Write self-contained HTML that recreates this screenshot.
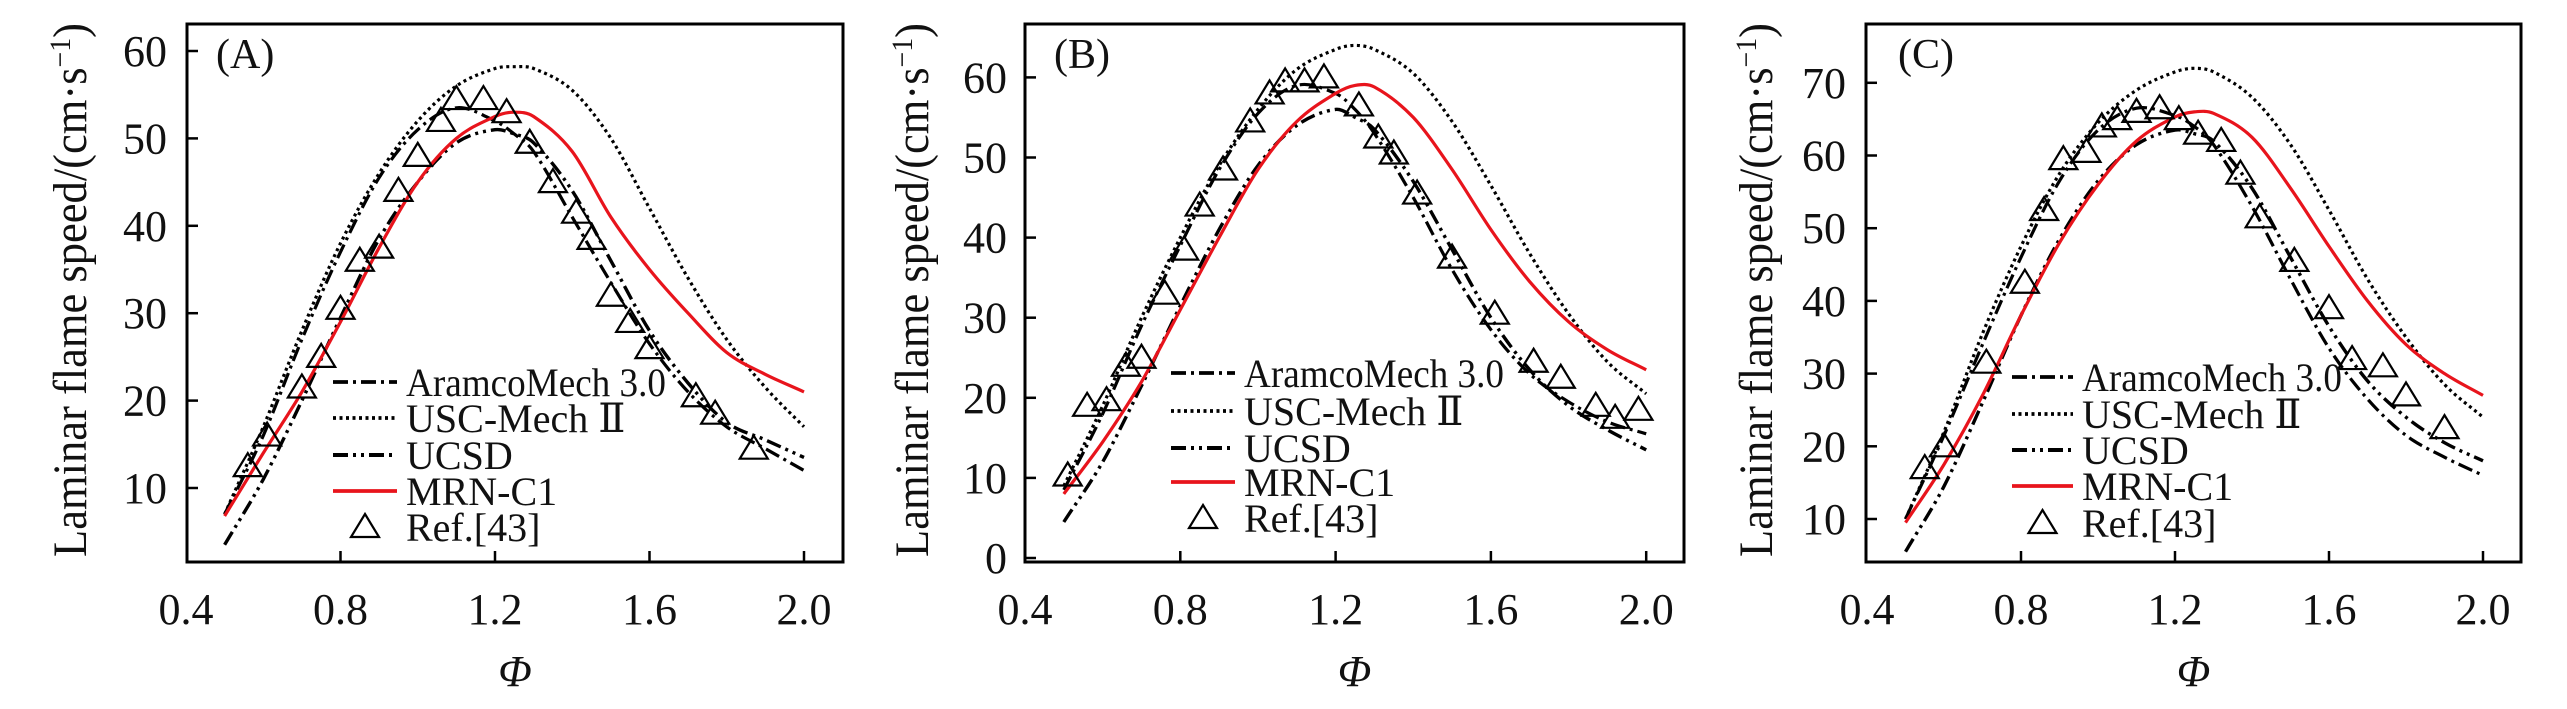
<!DOCTYPE html>
<html><head><meta charset="utf-8"><style>
html,body{margin:0;padding:0;background:#fff;}
svg{display:block;}
svg text{font-family:"Liberation Serif","DejaVu Serif",serif;}
</style></head><body>
<svg id="fig" width="2567" height="709" viewBox="0 0 2567 709" xmlns="http://www.w3.org/2000/svg" font-family="Liberation Serif, DejaVu Serif, serif"></svg>
<script>
// Shared phi grid for model curves
const phiGrid = [0.5,0.6,0.7,0.8,0.9,1.0,1.1,1.2,1.25,1.3,1.4,1.5,1.6,1.7,1.8,1.9,2.0];
const xTicks = [0.4,0.8,1.2,1.6,2.0];
const xTickLabels = ["0.4","0.8","1.2","1.6","2.0"];
const seriesNames = ["AramcoMech 3.0","USC-Mech \u2161","UCSD","MRN-C1","Ref.[43]"];

// Panel A
const aAramco = [7,16,27,37,45.5,51,53.5,52,50.5,48.5,41,33.5,26.5,21,17,14.5,12];
const aUSC    = [7,17,28,38,46,52,56,58,58.2,58,55.5,50,42,34,27,21.5,17];
const aUCSD   = [3.5,11,20,29.5,38.5,45,49.5,51,50.5,49.5,44,36,28,22,17.5,15.5,13.5];
const aMRN    = [6.8,14,21,29,37.5,45,50,52.5,53,52.5,48.5,41,35,30,25.5,23,21];
const aRefPhi = [0.56,0.61,0.70,0.75,0.80,0.85,0.90,0.95,1.00,1.06,1.10,1.17,1.23,1.29,1.35,1.41,1.45,1.50,1.55,1.60,1.72,1.77,1.87];
const aRefSL  = [12.5,16,21.5,25,30.5,36,37.5,44,48,52,54.5,54.5,53,49.5,45,41.5,38.5,32,29,26,20.5,18.5,14.5];
const aYTicks = [10,20,30,40,50,60];

// Panel B
const bAramco = [8.5,18,29,39,48.5,55.5,59,58,56,53,45,36,28.5,23,19.5,17,15.5];
const bUSC    = [9,19,30,40,49,56,61,63.5,64,63.5,60.5,54.5,46.5,38,30.5,24.5,20.5];
const bUCSD   = [4.5,12,21.5,31.5,41,49,54,56,55,53.5,47,38.5,30,23.5,19,16,13.5];
const bMRN    = [8,14.5,22,31,40,48.5,54.5,58,59,58.8,55,48.5,41,34.5,29.5,26,23.5];
const bRefPhi = [0.51,0.56,0.61,0.66,0.70,0.76,0.81,0.85,0.91,0.98,1.03,1.07,1.12,1.17,1.26,1.31,1.35,1.41,1.50,1.61,1.71,1.78,1.87,1.92,1.98];
const bRefSL  = [10.3,19,19.7,24,25,33,38.5,44,48.5,54.5,58,59.5,59.5,60,56.5,52.5,50.5,45.5,37.5,30.5,24.5,22.5,19,17.5,18.5];
const bYTicks = [0,10,20,30,40,50,60];

// Panel C
const cAramco = [10,21.5,34,46,56.5,63.5,66.5,65.5,64,61.5,53,43,33.5,26.5,21.5,18.5,16];
const cUSC    = [10,22,35.5,47.5,57.5,64.5,69,71.5,72,71.5,68,61.5,52.5,43,35,28.5,24];
const cUCSD   = [5.5,14.5,26,38,48.5,56.5,61.5,63.5,63,62,55.5,46,36.5,29,24,20.5,18];
const cMRN    = [9.5,17.5,27,38,48,56,62,65.3,66,65.8,62.5,55.5,47.5,40,34,30,27];
const cRefPhi = [0.55,0.60,0.71,0.81,0.86,0.91,0.97,1.01,1.05,1.10,1.16,1.21,1.26,1.32,1.37,1.42,1.51,1.60,1.66,1.74,1.80,1.90];
const cRefSL  = [17,20,31.5,42.5,52.5,59.5,60.5,64,65,66,66.5,65,63,62,57.5,51.5,45.5,39,32,31,27,22.5];
const cYTicks = [10,20,30,40,50,60,70];

const NS="http://www.w3.org/2000/svg";
const svg=document.getElementById('fig');
function mk(tag,attrs,parent){const e=document.createElementNS(NS,tag);for(const k in attrs)e.setAttribute(k,attrs[k]);(parent||svg).appendChild(e);return e;}

const styles=[
 {stroke:"#000",dash:"15 5 3 5",w:3.2},
 {stroke:"#000",dash:"3 3.5",w:3.2},
 {stroke:"#000",dash:"15 5 3 5 3 5",w:3.4},
 {stroke:"#e8141c",dash:"",w:3.2}
];

// cubic Hermite through points with x-aware tangents
function smoothPath(pts){
  const n=pts.length, m=[];
  for(let i=0;i<n;i++){
    const a=pts[Math.max(0,i-1)], b=pts[Math.min(n-1,i+1)];
    m.push((b[1]-a[1])/(b[0]-a[0]));
  }
  let d="M"+pts[0][0].toFixed(1)+","+pts[0][1].toFixed(1);
  for(let i=0;i<n-1;i++){
    const p1=pts[i],p2=pts[i+1],dx=(p2[0]-p1[0])/3;
    d+=" C"+(p1[0]+dx).toFixed(1)+","+(p1[1]+m[i]*dx).toFixed(1)+" "+(p2[0]-dx).toFixed(1)+","+(p2[1]-m[i+1]*dx).toFixed(1)+" "+p2[0].toFixed(1)+","+p2[1].toFixed(1);
  }
  return d;
}
function tri(g,x,y){
  return mk('path',{d:`M${x},${y-13} L${x+14},${y+10} L${x-14},${y+10} Z`,fill:"none",stroke:"#000","stroke-width":2.2},g);
}

function panel(cfg){
  const g=mk('g',{});
  
  
  const X=v=>cfg.x04+(v-0.4)*cfg.px04/0.4;
  const Y=v=>cfg.yRef-(v-cfg.vRef)*cfg.px10/10;
  const sets=[cfg.aramco,cfg.usc,cfg.ucsd,cfg.mrn];
  const names=['aramco-curve','usc-curve','ucsd-curve','mrn-curve'];
  sets.forEach((arr,i)=>{
    const pts=phiGrid.map((p,j)=>[X(p),Y(arr[j])]);
    const s=styles[i];
    const e=mk('path',{d:smoothPath(pts),fill:"none",stroke:s.stroke,"stroke-width":s.w,"stroke-dasharray":s.dash},g);
    
    
  });
  cfg.refPhi.forEach((p,j)=>{
    const e=tri(g,X(p),Y(cfg.refSL[j]));
    
    
  });
  const fr=mk('rect',{x:cfg.left,y:24,width:cfg.right-cfg.left,height:538,fill:"none",stroke:"#000","stroke-width":3},g);
  
  
  xTicks.forEach((t,i)=>{
    const x=X(t);
    if(i>0){const tk=mk('line',{x1:x,y1:562,x2:x,y2:551,stroke:"#000","stroke-width":2.5},g);
      }
    const tl=mk('text',{x:x,y:624,"font-size":44,"text-anchor":"middle",fill:"#111"},g);
    tl.textContent=xTickLabels[i];
    
    
  });
  cfg.yTicks.forEach(t=>{
    const y=Y(t);
    if(y<560){const tk=mk('line',{x1:cfg.left,y1:y,x2:cfg.left+11,y2:y,stroke:"#000","stroke-width":2.5},g);
      }
    const tl=mk('text',{x:cfg.ylx,y:y+15,"font-size":44,"text-anchor":"end",fill:"#111"},g);
    tl.textContent=String(t);
    
    
  });
  const yt=mk('text',{x:0,y:0,"font-size":48,fill:"#111",textLength:534,lengthAdjust:"spacingAndGlyphs",transform:`translate(${cfg.ytx},557) rotate(-90)`},g);
  yt.innerHTML='Laminar flame speed/(cm\u00b7s<tspan dy="-16" font-size="30">\u22121</tspan><tspan dy="16">)</tspan>';
  
  
  const xt=mk('text',{x:(cfg.left+cfg.right)/2,y:686,"font-size":44,"font-style":"italic","text-anchor":"middle",fill:"#111"},g);
  xt.textContent='\u03a6';
  
  
  const pl=mk('text',{x:cfg.plx,y:68,"font-size":42,fill:"#111"},g);
  pl.textContent='('+cfg.id.toUpperCase()+')';
  
  
  cfg.legRows.forEach((ry,i)=>{
    const le=mk('g',{},g);
    
    
    if(i<4){const s=styles[i];
      mk('line',{x1:cfg.legX1,y1:ry,x2:cfg.legX2,y2:ry,stroke:s.stroke,"stroke-width":s.w+0.6,"stroke-dasharray":s.dash},le);}
    else tri(le,(cfg.legX1+cfg.legX2)/2,ry);
    const t=mk('text',{x:cfg.legTx,y:ry+14,"font-size":40,fill:"#111"},le);
    if(i==0){t.setAttribute('textLength',cfg.legW);t.setAttribute('lengthAdjust','spacingAndGlyphs');}
    t.textContent=seriesNames[i];
  });
}

panel({id:'a',x04:186,px04:154.5,yRef:488,vRef:10,px10:87.4,left:187,right:843,ylx:167,ytx:86,plx:216,
  aramco:aAramco,usc:aUSC,ucsd:aUCSD,mrn:aMRN,refPhi:aRefPhi,refSL:aRefSL,yTicks:aYTicks,
  legRows:[382,418,455,491,527],legX1:333,legX2:397,legTx:406,legW:260});
panel({id:'b',x04:1025,px04:155.3,yRef:558,vRef:0,px10:80.1,left:1025,right:1684,ylx:1007,ytx:928,plx:1054,
  aramco:bAramco,usc:bUSC,ucsd:bUCSD,mrn:bMRN,refPhi:bRefPhi,refSL:bRefSL,yTicks:bYTicks,
  legRows:[373,411,448,482,518],legX1:1171,legX2:1235,legTx:1244,legW:260});
panel({id:'c',x04:1867,px04:154,yRef:519,vRef:10,px10:72.7,left:1866,right:2521,ylx:1846,ytx:1772,plx:1898,
  aramco:cAramco,usc:cUSC,ucsd:cUCSD,mrn:cMRN,refPhi:cRefPhi,refSL:cRefSL,yTicks:cYTicks,
  legRows:[377,414,450,486,523],legX1:2012,legX2:2073,legTx:2082,legW:260});
</script>
</body></html>
